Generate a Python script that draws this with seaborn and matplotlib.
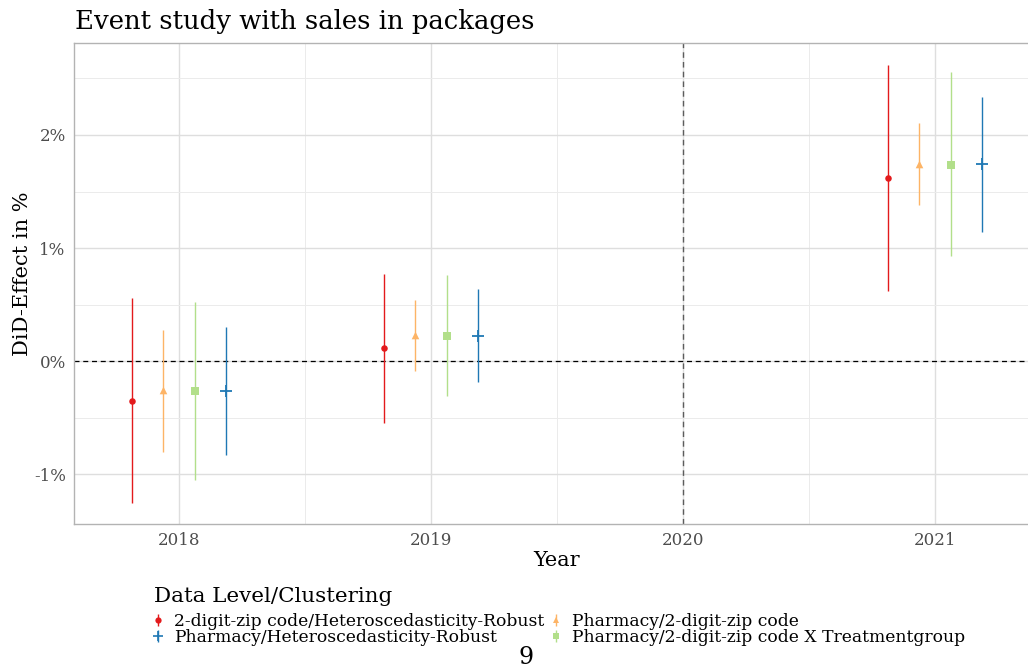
import matplotlib
matplotlib.use("Agg")
import matplotlib.pyplot as plt
import seaborn as sns
import pandas as pd
from matplotlib.lines import Line2D
from matplotlib.ticker import FuncFormatter, MultipleLocator

# Event-study estimates (DiD effect in percent) with confidence bounds
years = [2018, 2019, 2021]

series_names = [
    "2-digit-zip code/Heteroscedasticity-Robust",
    "Pharmacy/2-digit-zip code",
    "Pharmacy/2-digit-zip code X Treatmentgroup",
    "Pharmacy/Heteroscedasticity-Robust",
]

est_zip_hr = [-0.354, 0.115, 1.619]
low_zip_hr = [-1.257, -0.549, 0.619]
high_zip_hr = [0.558, 0.770, 2.619]

est_pharm_zip = [-0.257, 0.230, 1.743]
low_pharm_zip = [-0.805, -0.088, 1.381]
high_pharm_zip = [0.274, 0.540, 2.106]

est_pharm_zip_treat = [-0.265, 0.221, 1.735]
low_pharm_zip_treat = [-1.053, -0.310, 0.929]
high_pharm_zip_treat = [0.522, 0.761, 2.557]

est_pharm_hr = [-0.265, 0.221, 1.740]
low_pharm_hr = [-0.832, -0.186, 1.142]
high_pharm_hr = [0.300, 0.637, 2.336]

estimates = [est_zip_hr, est_pharm_zip, est_pharm_zip_treat, est_pharm_hr]
lows = [low_zip_hr, low_pharm_zip, low_pharm_zip_treat, low_pharm_hr]
highs = [high_zip_hr, high_pharm_zip, high_pharm_zip_treat, high_pharm_hr]

colors = ["#e31a1c", "#fdb466", "#b2df8a", "#1f78b4"]
markers = ["o", "^", "s", "+"]
marker_sizes = [22, 30, 28, 70]

rows = []
for i, name in enumerate(series_names):
    for j, yr in enumerate(years):
        rows.append({"series": name, "idx": i, "year": yr,
                     "est": estimates[i][j], "low": lows[i][j], "high": highs[i][j]})
df = pd.DataFrame(rows)
dodge = 0.125
df["pos"] = df["year"] + (df["idx"] - 1.5) * dodge

sns.set_theme(style="whitegrid")
plt.rcParams["font.family"] = ["DejaVu Serif"]
plt.rcParams["text.color"] = "black"

fig = plt.figure(figsize=(10.28, 6.68), dpi=100)
ax = fig.add_axes([74 / 1028, 144 / 668, (1040 - 74) / 1028, (524 - 43) / 668])

# reference lines
ax.axhline(0, color="black", lw=0.9, ls=(0, (4, 3)), zorder=2)
ax.axvline(2020, color="#5c5c5c", lw=1.0, ls=(0, (4, 3)), zorder=2)

for i, name in enumerate(series_names):
    sub = df[df["idx"] == i]
    ax.vlines(sub["pos"], sub["low"], sub["high"], color=colors[i], lw=1.0, zorder=3)
    kw = dict(linewidth=1.3) if markers[i] == "+" else dict(linewidth=0)
    sns.scatterplot(data=sub, x="pos", y="est", color=colors[i], marker=markers[i],
                    s=marker_sizes[i], ax=ax, legend=False, zorder=4, **kw)

ax.set_xlim(2017.583, 2021.417)
ax.set_ylim(-1.442, 2.814)
ax.xaxis.set_major_locator(MultipleLocator(1))
ax.xaxis.set_minor_locator(MultipleLocator(0.5))
ax.yaxis.set_major_locator(MultipleLocator(1))
ax.yaxis.set_minor_locator(MultipleLocator(0.5))
ax.xaxis.set_major_formatter(FuncFormatter(lambda v, p: f"{int(round(v))}"))
ax.yaxis.set_major_formatter(FuncFormatter(lambda v, p: f"{int(round(v))}%"))

ax.grid(which="major", color="#dedede", lw=1.0)
ax.grid(which="minor", color="#ebebeb", lw=0.7)
ax.set_axisbelow(True)
for side in ["left", "bottom", "top", "right"]:
    ax.spines[side].set_color("#b3b3b3")
    ax.spines[side].set_linewidth(1.0)
ax.tick_params(axis="both", which="major", length=3, color="#b3b3b3", width=0.8,
               labelsize=12, labelcolor="#4d4d4d", pad=3)
ax.tick_params(axis="both", which="minor", length=0)

ax.set_xlabel("Year", fontsize=15, color="black", labelpad=1)
ax.set_ylabel("DiD-Effect in %", fontsize=15, color="black")
ax.yaxis.set_label_coords(-0.0435, 0.52)

fig.text(75 / 1028, 1 - 22 / 668, "Event study with sales in packages",
         fontsize=18.6, ha="left", va="center", color="black")

# legend keys: point with a short range line
handles = []
for i in range(4):
    line = Line2D([], [], color=colors[i], marker="|", markersize=9,
                  markeredgewidth=1.0, linestyle="none")
    if markers[i] == "+":
        pt = Line2D([], [], color=colors[i], marker="+", markersize=7,
                    markeredgewidth=1.2, linestyle="none")
    else:
        pt = Line2D([], [], color=colors[i], marker=markers[i], markersize=4.5,
                    markeredgewidth=0, linestyle="none")
    handles.append((line, pt))

fig.text(154 / 1028, 1 - 597 / 668, "Data Level/Clustering", fontsize=15.4,
         ha="left", va="center", color="black")

order = [0, 3, 1, 2]
leg = fig.legend([handles[k] for k in order], [series_names[k] for k in order],
                 loc="upper left", bbox_to_anchor=(152 / 1028, 1 - 613 / 668),
                 ncol=2, frameon=False, fontsize=12.3,
                 handlelength=0.7, handletextpad=0.6,
                 columnspacing=0.3, labelspacing=-0.06, borderpad=0, borderaxespad=0)

fig.text(526 / 1028, 1 - 657 / 668, "9", fontsize=17, ha="center", va="center",
         color="black")

fig.savefig("out.png", dpi=100)
